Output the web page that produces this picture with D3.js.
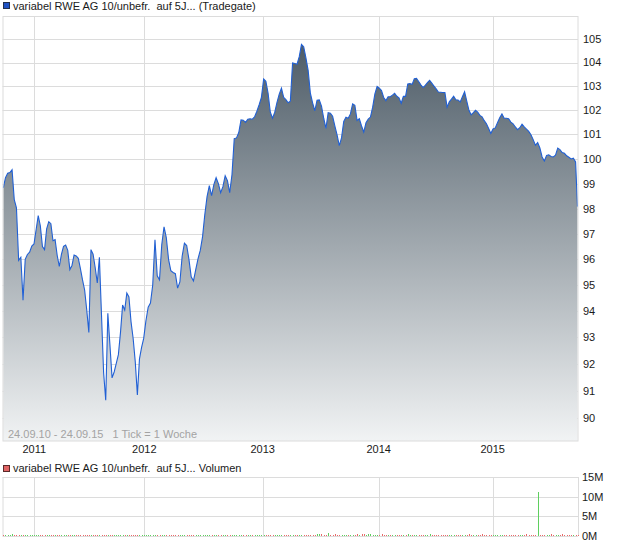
<!DOCTYPE html>
<html><head><meta charset="utf-8">
<script src="https://cdn.jsdelivr.net/npm/d3@7"></script>
<style>
html,body{margin:0;padding:0;background:#fff;}
svg{display:block;font-family:"Liberation Sans",Arial,sans-serif;}
text{white-space:pre;}
</style></head><body>
<svg id="c" width="620" height="546"></svg>
<script>
// ---------- data ----------
const titleText = "variabel RWE AG 10/unbefr.  auf 5J... (Tradegate)";
const volTitleText = "variabel RWE AG 10/unbefr.  auf 5J... Volumen";
const rangeText = "24.09.10 - 24.09.15   1 Tick = 1 Woche";
const startDate = "2010-09-24";
const endDate = "2015-09-24";
const yearTicks = ["2011", "2012", "2013", "2014", "2015"];
const priceTicks = [90, 91, 92, 93, 94, 95, 96, 97, 98, 99, 100, 101, 102, 103, 104, 105];
const volTicks = [0, 5, 10, 15];
const volTickLabels = ["0M", "5M", "10M", "15M"];

// weekly closing prices (24.09.10 ... 24.09.15)
const prices = [
  98.83, 99.24, 99.42, 99.45, 99.56, 98.36, 98.03, 95.96, 96.08, 94.42,
  96.0, 96.19, 96.28, 96.52, 96.6, 97.16, 97.72, 97.32, 96.5, 96.38,
  97.2, 97.48, 97.4, 96.73, 96.77, 96.15, 95.72, 96.19, 96.51, 96.56,
  96.35, 95.6, 95.76, 96.17, 96.13, 96.04, 95.64, 95.2, 94.81, 94.04,
  93.19, 96.38, 96.2, 95.68, 95.08, 96.08, 93.85, 91.67, 90.65, 93.92,
  92.7, 91.48, 91.7, 92.02, 92.35, 93.19, 94.23, 94.04, 94.69, 94.54,
  93.59, 92.96, 92.08, 90.85, 92.19, 92.62, 92.96, 93.63, 94.15, 94.31,
  95.0, 96.77, 95.36, 95.2, 96.58, 97.28, 96.85, 96.0, 95.56, 95.49,
  95.44, 94.88, 95.12, 96.12, 96.63, 96.54, 96.0, 95.32, 95.16, 95.6,
  96.02, 96.35, 96.88, 97.76, 98.48, 98.92, 98.52, 98.96, 99.24, 99.0,
  98.64, 98.88, 99.32, 99.12, 98.64, 99.36, 100.83, 100.86, 101.08, 101.6,
  101.59, 101.5, 101.63, 101.65, 101.63, 101.73, 101.96, 102.23, 102.54, 103.31,
  103.21, 102.71, 101.92, 101.67, 101.92, 102.33, 102.67, 102.92, 102.54, 102.44,
  102.31, 102.38, 103.98, 103.96, 103.93, 104.25, 104.77, 104.67, 104.2, 103.67,
  102.71, 102.31, 101.98, 102.42, 102.43, 102.17, 101.67, 101.25, 101.9, 101.88,
  101.75, 101.35, 100.98, 100.54, 100.86, 101.54, 101.71, 101.67, 101.85, 102.27,
  102.21, 101.58, 101.65, 101.35, 101.1, 101.48, 101.63, 101.72, 102.13, 102.68,
  102.99, 102.92, 102.82, 102.53, 102.4, 102.56, 102.56, 102.63, 102.71, 102.58,
  102.52, 102.29, 102.58, 102.58, 103.1, 103.11, 103.08, 103.32, 103.33, 103.2,
  103.06, 102.95, 103.04, 103.15, 103.25, 103.13, 103.01, 102.89, 102.76, 102.75,
  102.74, 102.74, 102.13, 102.35, 102.46, 102.58, 102.44, 102.43, 102.35, 102.56,
  102.77, 102.38, 102.0, 101.81, 101.9, 102.0, 101.92, 101.79, 101.73, 101.57,
  101.44, 101.25, 101.04, 101.23, 101.27, 101.48, 101.69, 101.85, 101.67, 101.67,
  101.65, 101.51, 101.44, 101.31, 101.2, 101.28, 101.42, 101.31, 101.22, 101.13,
  100.99, 100.79, 100.56, 100.67, 100.45, 100.08, 99.92, 100.14, 100.17, 100.1,
  100.08, 100.15, 100.44, 100.38, 100.26, 100.23, 100.13, 100.07, 100.0, 100.03,
  99.88, 98.08
];

// weekly volume, millions
const volumes = [
  0.10, 0.15, 0.12, 0.20, 0.50, 0.15, 0.10, 0.08, 0.10, 0.06, 0.08, 0.05, 0.07, 0.06, 0.05,
  0.06, 0.05, 0.08, 0.05, 0.06, 0.07, 0.05, 0.06, 0.05, 0.08,
  0.06, 0.05, 0.07, 0.06, 0.05, 0.06, 0.08, 0.05, 0.06, 0.05,
  0.07, 0.06, 0.05, 0.08, 0.06, 0.05, 0.10, 0.06, 0.07, 0.05,
  0.06, 0.08, 0.05, 0.06, 0.05, 0.07, 0.06, 0.05, 0.08, 0.06,
  0.05, 0.07, 0.06, 0.05, 0.06, 0.08, 0.05, 0.06, 0.05, 0.07,
  0.06, 0.05,
  0.06, 0.08, 0.05, 0.07, 0.06, 0.10, 0.05, 0.06, 0.08, 0.06,
  0.07, 0.05, 0.06, 0.08, 0.06, 0.05, 0.10, 0.06, 0.07, 0.05,
  0.06, 0.08, 0.05, 0.12, 0.06, 0.05, 0.07, 0.06, 0.10, 0.08,
  0.06, 0.05, 0.07, 0.10, 0.06, 0.08, 0.05, 0.20, 0.06, 0.10,
  0.08, 0.06, 0.12, 0.07, 0.10, 0.06, 0.15, 0.08, 0.06, 0.10,
  0.07, 0.12,
  0.12, 0.15, 0.10, 0.18, 0.12, 0.10, 0.15, 0.12, 0.20, 0.10,
  0.12, 0.15, 0.10, 0.12, 0.18, 0.10, 0.12, 0.15, 0.10, 0.12,
  0.15, 0.10, 0.20, 0.25, 0.50, 0.45, 0.40, 0.15, 0.20, 0.70,
  0.15, 0.20, 0.60, 0.15, 0.25, 0.12, 0.20, 0.15, 0.12, 0.20,
  0.15, 0.25, 0.40, 0.35, 0.45, 0.40, 0.35, 0.45, 0.40, 0.35,
  0.20, 0.15,
  0.35, 0.40, 0.35, 0.30, 0.15, 0.12, 0.20, 0.15, 0.12, 0.18,
  0.15, 0.12, 0.20, 0.50, 0.15, 0.12, 0.18, 0.15, 0.12, 0.15,
  0.20, 0.12, 0.15, 0.45, 0.15, 0.12, 0.18, 0.15, 0.12, 0.20,
  0.15, 0.12, 0.18, 0.15, 0.20, 0.12, 0.15, 0.18, 0.12, 0.20,
  0.35, 0.40, 0.35, 0.30, 0.15, 0.12, 0.20, 0.40, 0.15, 0.12,
  0.30, 0.15,
  0.15, 0.12, 0.18, 0.15, 0.12, 0.25, 0.15, 0.12, 0.18, 0.15,
  0.12, 0.30, 0.30, 0.15, 0.12, 0.50, 0.15, 0.30, 0.12, 0.15,
  11.1, 0.15, 0.35, 0.12, 0.15, 0.18, 0.50, 0.15, 0.12, 0.15,
  0.35, 0.40, 0.35, 0.30, 0.15, 0.25, 0.12, 0.15, 0.10
];

// ---------- layout ----------
const parse = d3.utcParse("%Y-%m-%d");
const t0 = parse(startDate), t1 = parse(endDate);
const dates = prices.map((_, i) => i < prices.length - 1 ? d3.utcDay.offset(t0, 7 * i) : t1);
const yearDates = yearTicks.map(y => parse(y + "-01-01"));

const P = { left: 2.5, right: 578, top: 16.5, bottom: 441 };
const V = { top: 477, bottom: 536 };

// index-like time axis (data gaps compress 2011)
const x = d3.scaleUtc()
  .domain([t0, ...yearDates, t1])
  .range([3.3, 34.3, 144.3, 262.7, 378.7, 492.7, 577.5]);
const y = d3.scaleLog().domain([90, 105]).range([418, 39]);
const yv = d3.scaleLinear().domain([0, 15]).range([V.bottom, V.top]);

const svg = d3.select("#c");
const gridCol = "#dcdcdc";

// gradient
const defs = svg.append("defs");
const grad = defs.append("linearGradient").attr("id", "ag")
  .attr("gradientUnits", "userSpaceOnUse")
  .attr("x1", 0).attr("x2", 0).attr("y1", P.top).attr("y2", P.bottom);
grad.append("stop").attr("offset", 0).attr("stop-color", "#43525e");
grad.append("stop").attr("offset", 1).attr("stop-color", "#f1f3f4");
defs.append("clipPath").attr("id", "pc").append("rect")
  .attr("x", P.left).attr("y", P.top).attr("width", P.right - P.left).attr("height", P.bottom - P.top);

// title
svg.append("rect").attr("x", 3.5).attr("y", 2.5).attr("width", 6).attr("height", 6)
  .attr("fill", "#1f52c4").attr("stroke", "#23304d").attr("stroke-width", 1);
svg.append("text").attr("x", 13).attr("y", 10).attr("font-size", 11).attr("fill", "#1a1a1a").text(titleText);

// main grid
const gMain = svg.append("g");
gMain.selectAll("line.h").data(priceTicks).join("line")
  .attr("x1", P.left).attr("x2", P.right)
  .attr("y1", d => Math.round(y(d)) + 0.5).attr("y2", d => Math.round(y(d)) + 0.5)
  .attr("stroke", gridCol);
gMain.selectAll("line.v").data(yearDates).join("line")
  .attr("x1", d => Math.round(x(d)) + 0.5).attr("x2", d => Math.round(x(d)) + 0.5)
  .attr("y1", P.top).attr("y2", P.bottom)
  .attr("stroke", gridCol);

// area + line
const area = d3.area().x((d, i) => x(dates[i])).y0(P.bottom).y1(d => y(d));
const line = d3.line().x((d, i) => x(dates[i])).y(d => y(d));
svg.append("path").attr("clip-path", "url(#pc)").attr("d", area(prices)).attr("fill", "url(#ag)");
svg.append("path").attr("clip-path", "url(#pc)").attr("d", line(prices))
  .attr("fill", "none").attr("stroke", "#2160d4").attr("stroke-width", 1.1).attr("stroke-linejoin", "miter");

// border
svg.append("rect").attr("x", P.left + 0.5).attr("y", P.top).attr("width", P.right - P.left - 0.5).attr("height", P.bottom - P.top)
  .attr("fill", "none").attr("stroke", gridCol);

// range text
svg.append("text").attr("x", 8).attr("y", 437.5).attr("font-size", 11).attr("fill", "#a3a3a3").text(rangeText);

// y labels
svg.selectAll("text.yl").data(priceTicks).join("text")
  .attr("x", 583).attr("y", d => y(d)).attr("dy", "0.36em")
  .attr("font-size", 11).attr("fill", "#1a1a1a").text(d => d);

// x labels
svg.selectAll("text.xl").data(yearTicks).join("text")
  .attr("x", (d, i) => x(yearDates[i])).attr("y", 453)
  .attr("text-anchor", "middle").attr("font-size", 11).attr("fill", "#1a1a1a").text(d => d);

// ---------- volume panel ----------
svg.append("rect").attr("x", 3.5).attr("y", 465.5).attr("width", 6).attr("height", 6)
  .attr("fill", "#e06464").attr("stroke", "#5a2a2a").attr("stroke-width", 1);
svg.append("text").attr("x", 13).attr("y", 472).attr("font-size", 11).attr("fill", "#1a1a1a").text(volTitleText);

svg.selectAll("line.vh").data(volTicks).join("line")
  .attr("x1", P.left).attr("x2", P.right)
  .attr("y1", d => Math.round(yv(d)) + 0.5).attr("y2", d => Math.round(yv(d)) + 0.5)
  .attr("stroke", gridCol);
svg.selectAll("line.vv").data(yearDates).join("line")
  .attr("x1", d => Math.round(x(d)) + 0.5).attr("x2", d => Math.round(x(d)) + 0.5)
  .attr("y1", V.top).attr("y2", V.bottom)
  .attr("stroke", gridCol);
svg.append("line").attr("x1", P.left + 0.5).attr("x2", P.left + 0.5).attr("y1", V.top).attr("y2", V.bottom).attr("stroke", gridCol);
svg.append("line").attr("x1", P.right + 0.5).attr("x2", P.right + 0.5).attr("y1", V.top).attr("y2", V.bottom).attr("stroke", gridCol);

svg.selectAll("rect.vb").data(volumes).join("rect")
  .attr("x", (d, i) => Math.round(x(dates[i])))
  .attr("width", 1)
  .attr("y", d => Math.min(Math.round(yv(d)), V.bottom - 1))
  .attr("height", d => Math.max(1, V.bottom - Math.round(yv(d))))
  .attr("fill", (d, i) => (i > 0 && prices[i] > prices[i - 1]) ? "#5fcf5f" : "#e86a6a");

svg.selectAll("text.vl").data(volTicks).join("text")
  .attr("x", 582).attr("y", d => yv(d)).attr("dy", "0.36em")
  .attr("font-size", 11).attr("fill", "#1a1a1a").text((d, i) => volTickLabels[i]);
</script>
</body></html>
